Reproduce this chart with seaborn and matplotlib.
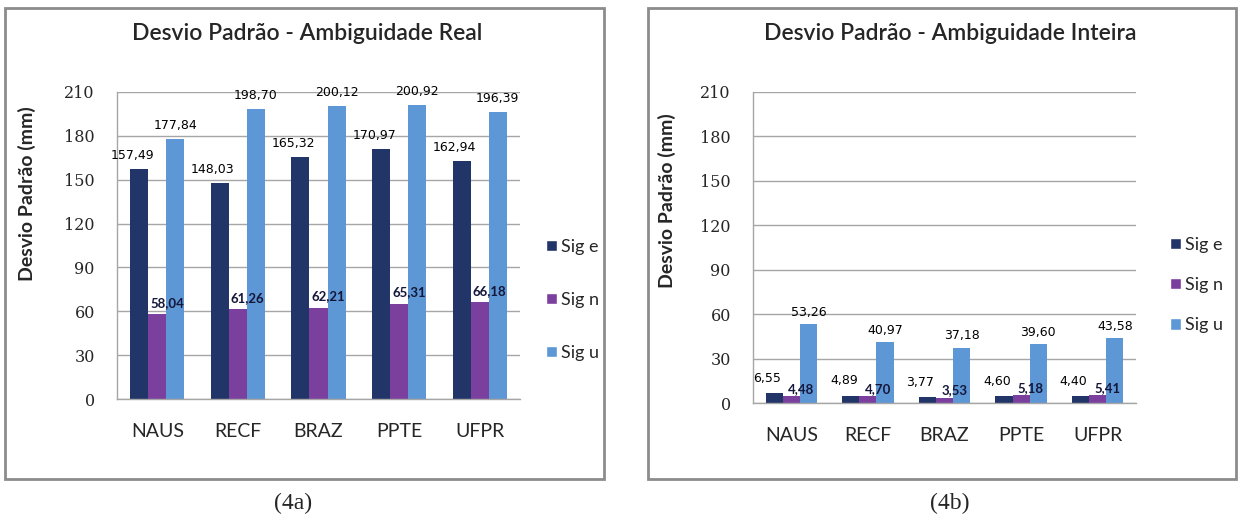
import matplotlib
matplotlib.use("Agg")
import numpy as np
import pandas as pd
import matplotlib.pyplot as plt
from matplotlib.patches import Patch, Rectangle
import seaborn as sns

# dados
stations = ["NAUS", "RECF", "BRAZ", "PPTE", "UFPR"]
series = ["Sig e", "Sig n", "Sig u"]

real_sig_e = [157.49, 148.03, 165.32, 170.97, 162.94]
real_sig_n = [58.04, 61.26, 62.21, 65.31, 66.18]
real_sig_u = [177.84, 198.70, 200.12, 200.92, 196.39]

int_sig_e = [6.55, 4.89, 3.77, 4.60, 4.40]
int_sig_n = [4.48, 4.70, 3.53, 5.18, 5.41]
int_sig_u = [53.26, 40.97, 37.18, 39.60, 43.58]

y_ticks = [0, 30, 60, 90, 120, 150, 180, 210]

titles = ["Desvio Padrão - Ambiguidade Real", "Desvio Padrão - Ambiguidade Inteira"]
captions = ["(4a)", "(4b)"]
y_label = "Desvio Padrão (mm)"

colors = ["#223568", "#7b3f9e", "#5e97d6"]
GRID = "#a6a6a6"
W, H = 1241, 520


def long_table(sig_e, sig_n, sig_u):
    rows = []
    for name, vals in zip(series, [sig_e, sig_n, sig_u]):
        for st, v in zip(stations, vals):
            rows.append({"station": st, "series": name, "value": v})
    return pd.DataFrame(rows)


def fmt(v):
    return f"{v:.2f}".replace(".", ",")


def draw_panel(fig, rect, df, label_pads, ylab_y, leg_pos, leg_spacing):
    ax = fig.add_axes(rect)
    sns.barplot(data=df, x="station", y="value", hue="series", order=stations,
                hue_order=series, palette=colors, saturation=1, width=0.67,
                gap=0, linewidth=0, errorbar=None, legend=False, ax=ax)

    ax.set_ylim(0, 210)
    ax.set_yticks(y_ticks)
    ax.set_xlim(-0.5, len(stations) - 0.5)
    ax.yaxis.grid(True, color=GRID, lw=1)
    ax.set_axisbelow(True)
    for s in ["top", "right"]:
        ax.spines[s].set_visible(False)
    for s in ["left", "bottom"]:
        ax.spines[s].set_color(GRID)
        ax.spines[s].set_linewidth(1)

    ax.tick_params(axis="y", length=7, color=GRID, pad=9)
    for t in ax.get_yticklabels():
        t.set_fontfamily("DejaVu Serif")
        t.set_fontsize(11.5)
    ax.set_xticks(np.arange(-0.5, len(stations), 1), minor=True)
    ax.tick_params(axis="x", which="major", length=0, pad=17, labelsize=14)
    ax.tick_params(axis="x", which="minor", length=5, color=GRID)

    ax.set_xlabel("")
    ax.set_ylabel(y_label, fontsize=14, fontweight="bold")
    ax.yaxis.set_label_coords(-0.2, ylab_y)

    # rotulos de valor
    shifts = [-5, 7, 0]
    for i, cont in enumerate(ax.containers):
        for bar in cont:
            h = bar.get_height()
            ax.annotate(fmt(h), (bar.get_x() + bar.get_width() / 2, h),
                        xytext=(shifts[i], label_pads[i]), textcoords="offset points",
                        ha="center", va="bottom", fontsize=9 if i != 1 else 9.5,
                        fontfamily="DejaVu Sans" if i != 1 else "Lato",
                        fontweight="normal" if i != 1 else "bold",
                        color="black" if i != 1 else "#15173a")

    handles = [Patch(facecolor=c, label=s) for c, s in zip(colors, series)]
    ax.legend(handles=handles, loc="center left", bbox_to_anchor=leg_pos,
              bbox_transform=fig.transFigure, frameon=False, fontsize=13,
              handlelength=0.6, handleheight=0.6, handletextpad=0.25,
              borderpad=0, labelspacing=leg_spacing)
    return ax


sns.set_theme(style="white")
plt.rcParams["font.family"] = ["Lato", "DejaVu Sans"]

fig = plt.figure(figsize=(W / 100, H / 100), dpi=100)

df_real = long_table(real_sig_e, real_sig_n, real_sig_u)
df_int = long_table(int_sig_e, int_sig_n, int_sig_u)

draw_panel(fig, [117 / W, 1 - 399 / H, 403 / W, 307 / H], df_real,
           [5, 4, 5], 0.67, (537 / W, 1 - 300 / H), 2.05)
draw_panel(fig, [753 / W, 1 - 403 / H, 383 / W, 311 / H], df_int,
           [6, 1, 4], 0.65, (1161 / W, 1 - 285 / H), 1.35)

# moldura dos paineis
for x0, x1 in [(5, 604), (648, 1236)]:
    fig.add_artist(Rectangle((x0 / W, 1 - 479 / H), (x1 - x0) / W, 471 / H,
                             transform=fig.transFigure, fill=False,
                             ec="#8c8c8c", lw=2))

for xc, t in zip([307, 950], titles):
    fig.text(xc / W, 1 - 33 / H, t, ha="center", va="center", fontsize=16.5,
             fontweight="semibold")

for xc, c in zip([293, 950], captions):
    fig.text(xc / W, 1 - 503 / H, c, ha="center", va="center", fontsize=17,
             fontfamily="Liberation Serif")

fig.savefig("out.png", dpi=100, facecolor="white")
